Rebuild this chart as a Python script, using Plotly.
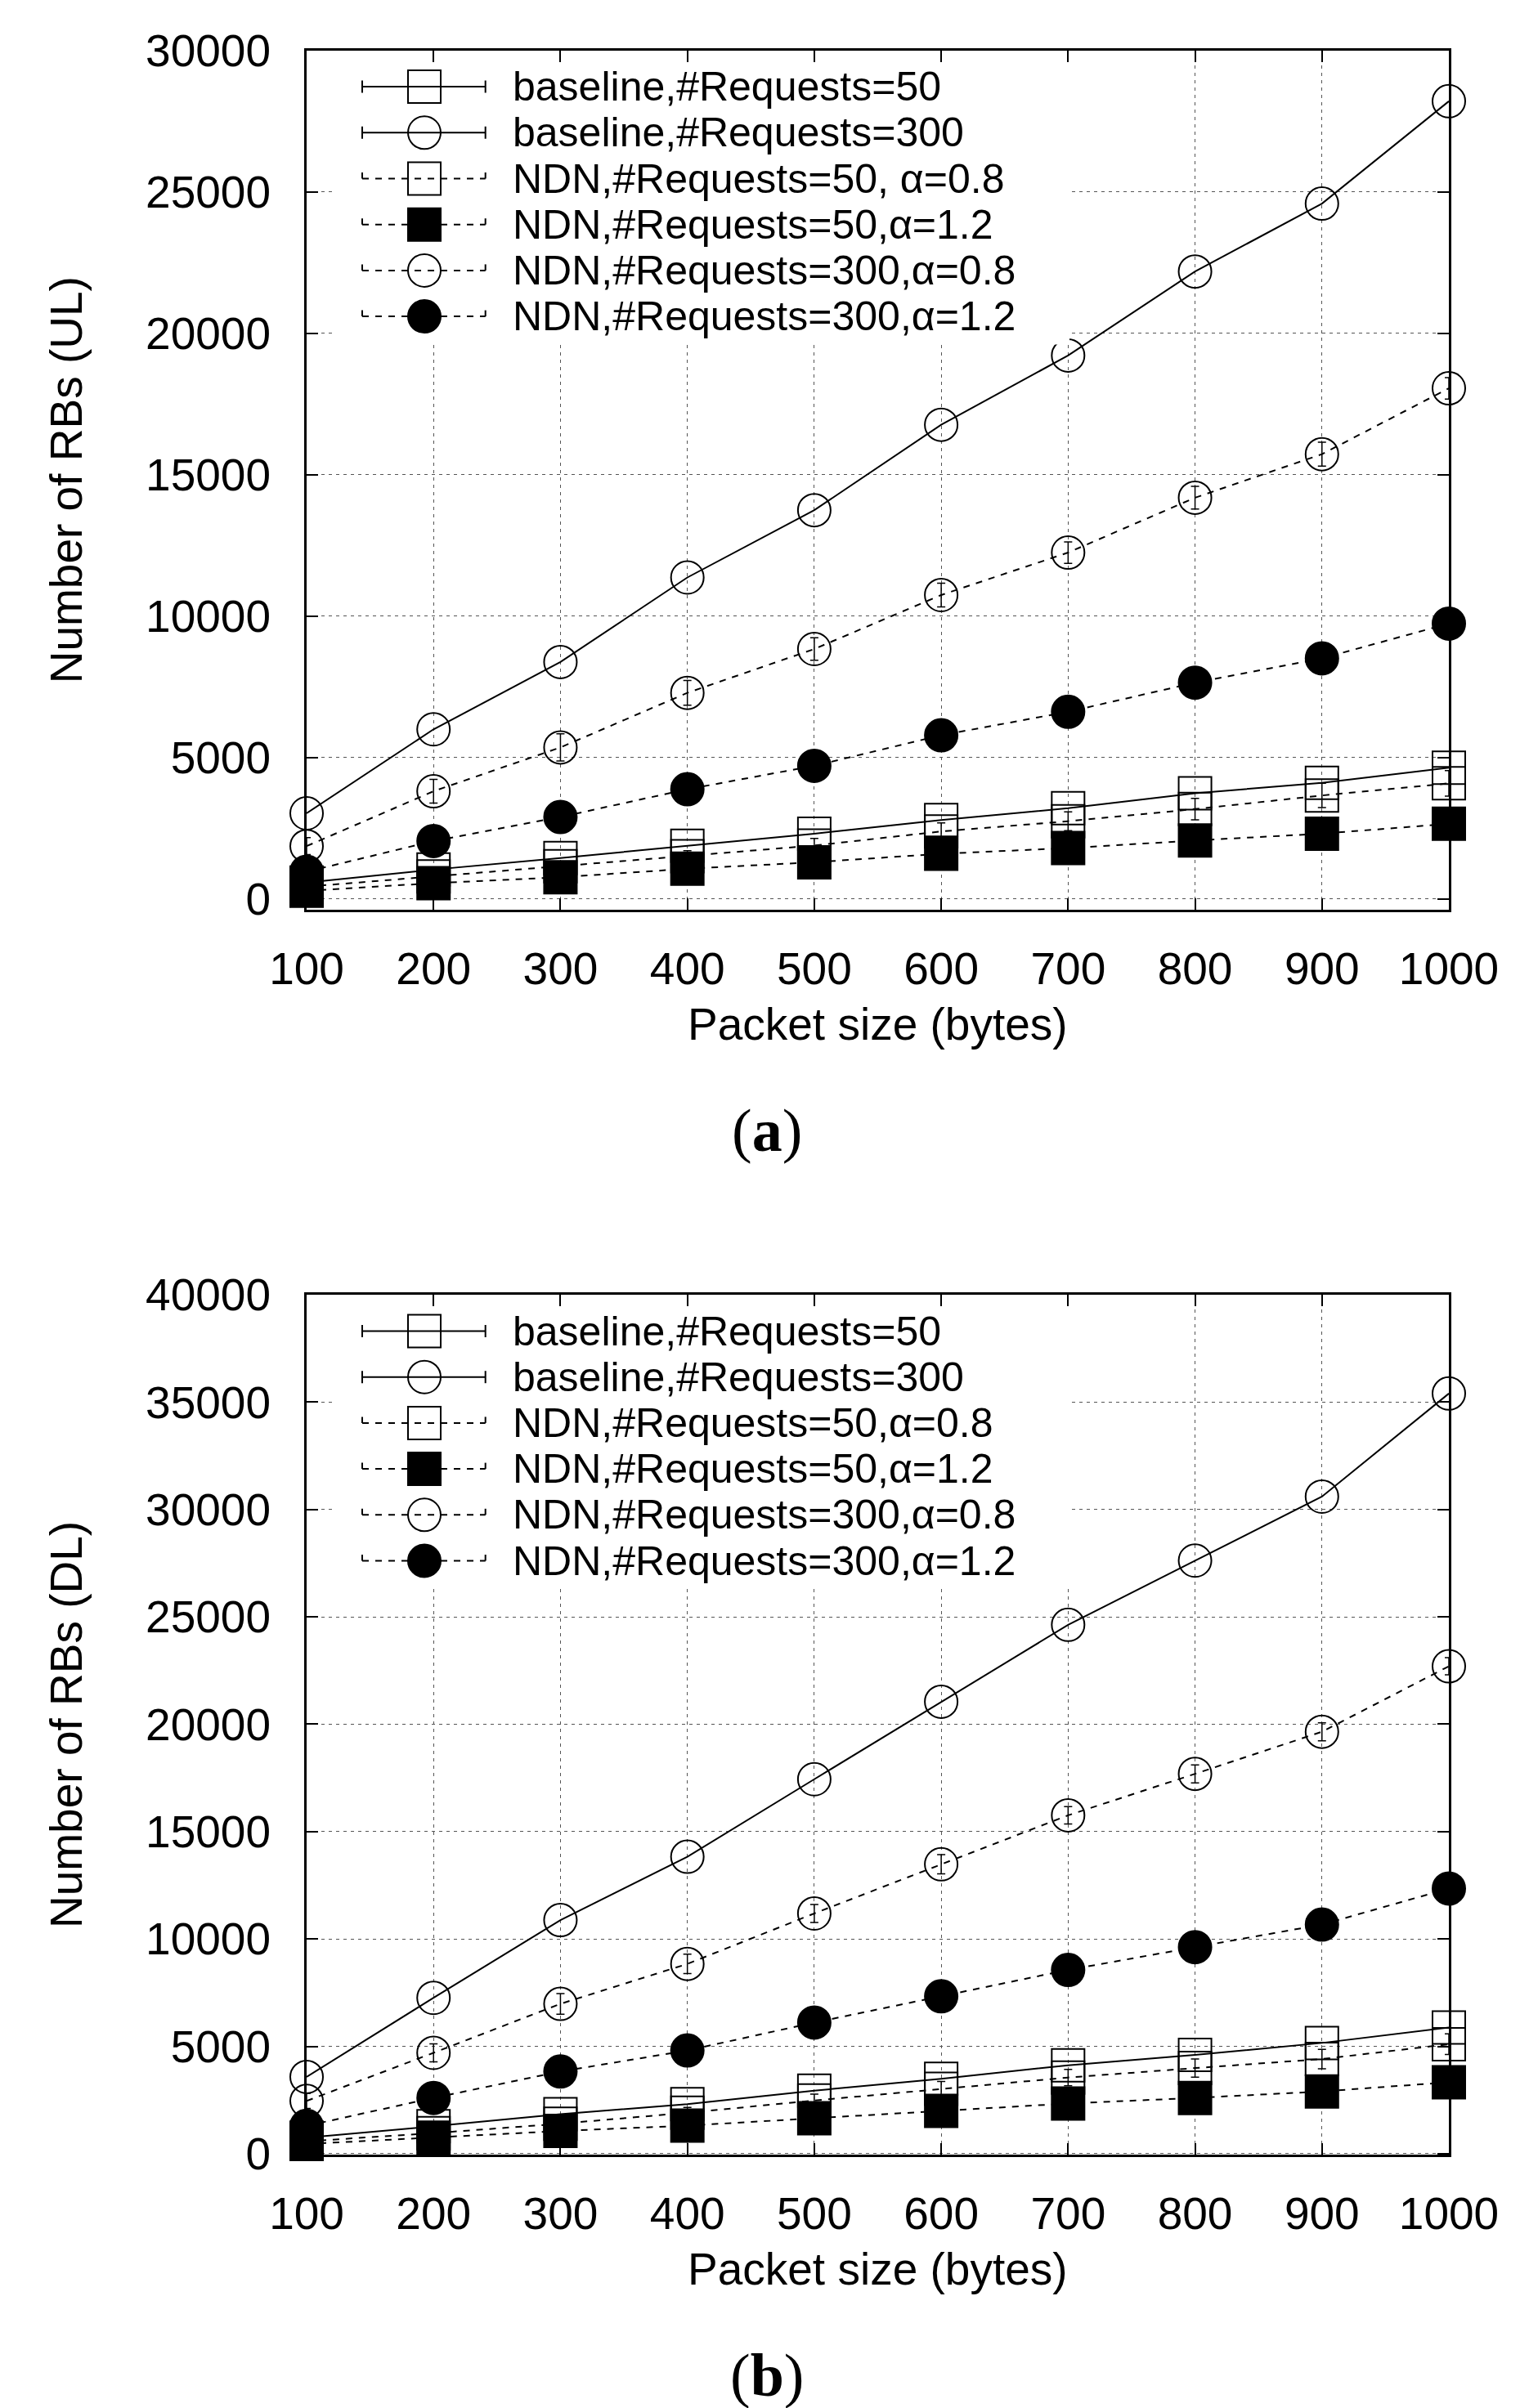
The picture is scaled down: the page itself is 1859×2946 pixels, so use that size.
"""Number of RBs (UL / DL) versus packet size, baseline vs NDN."""

import plotly.graph_objects as go

PACKET_SIZES = [100, 200, 300, 400, 500, 600, 700, 800, 900, 1000]

# panel (a): uplink
UL_BASELINE_50 = [570, 1030, 1440, 1870, 2300, 2780, 3200, 3730, 4100, 4630]
UL_BASELINE_300 = [3020, 5990, 8370, 11360, 13740, 16760, 19210, 22180, 24580, 28200]
UL_NDN_50_A08 = [425, 790, 1150, 1500, 1880, 2380, 2740, 3170, 3650, 4080]
UL_NDN_50_A12 = [280, 550, 760, 1060, 1290, 1590, 1790, 2060, 2300, 2650]
UL_NDN_300_A08 = [1860, 3800, 5350, 7280, 8830, 10740, 12240, 14180, 15720, 18050]
UL_NDN_300_A12 = [955, 2040, 2890, 3870, 4700, 5780, 6610, 7640, 8500, 9730]

# panel (b): downlink
DL_BASELINE_50 = [750, 1280, 1840, 2310, 2940, 3490, 4120, 4600, 5160, 5880]
DL_BASELINE_300 = [3580, 7260, 10880, 13830, 17440, 21050, 24630, 27620, 30600, 35400]
DL_NDN_50_A08 = [580, 960, 1400, 1910, 2480, 3020, 3550, 3990, 4410, 5100]
DL_NDN_50_A12 = [455, 750, 1060, 1310, 1650, 2000, 2340, 2600, 2900, 3330]
DL_NDN_300_A08 = [2460, 4700, 6980, 8840, 11190, 13480, 15760, 17690, 19650, 22700]
DL_NDN_300_A12 = [1300, 2600, 3830, 4810, 6110, 7330, 8560, 9620, 10670, 12350]

# small error bars, visible inside the open NDN markers
UL_NDN_50_A08_ERR = [100, 150, 150, 200, 250, 300, 330, 380, 430, 450]
UL_NDN_300_A08_ERR = [300, 420, 480, 440, 400, 420, 380, 400, 420, 380]
DL_NDN_50_A08_ERR = [100, 150, 200, 250, 300, 350, 380, 420, 450, 480]
DL_NDN_300_A08_ERR = [350, 420, 480, 450, 420, 450, 400, 420, 420, 400]

UL_LABELS = [
    "baseline,#Requests=50",
    "baseline,#Requests=300",
    "NDN,#Requests=50, α=0.8",
    "NDN,#Requests=50,α=1.2",
    "NDN,#Requests=300,α=0.8",
    "NDN,#Requests=300,α=1.2",
]
DL_LABELS = [
    "baseline,#Requests=50",
    "baseline,#Requests=300",
    "NDN,#Requests=50,α=0.8",
    "NDN,#Requests=50,α=1.2",
    "NDN,#Requests=300,α=0.8",
    "NDN,#Requests=300,α=1.2",
]

W, H = 1859, 2946
BOX_L, BOX_R = 367, 1764
A_TOP, A_BOT = 53.6, 1105
B_TOP, B_BOT = 1576, 2628
BOX_W = BOX_R - BOX_L

FONT = "Liberation Sans, Arial, sans-serif"
FS = 55
KEY_FS = 50
DASH = "8px,8px"

# (dash, symbol) for each of the six series, in drawing order
STYLES = [
    ("solid", "square-open"),
    ("solid", "circle-open"),
    (DASH, "square-open"),
    (DASH, "square"),
    (DASH, "circle-open"),
    (DASH, "circle"),
]

fig = go.Figure()


def add_panel(series, errors, xa, ya):
    for values, err, (dash, symbol) in zip(series, errors, STYLES):
        error_y = None
        if err is not None:
            error_y = {"type": "data", "array": err, "color": "black",
                       "thickness": 1.5, "width": 5}
        fig.add_trace(
            go.Scatter(
                x=PACKET_SIZES,
                y=values,
                mode="lines+markers",
                line={"color": "black", "width": 2, "dash": dash},
                marker={
                    "symbol": symbol,
                    "size": 40,
                    "color": "black",
                    "line": {"color": "black", "width": 2},
                },
                error_y=error_y,
                cliponaxis=False,
                showlegend=False,
                xaxis=xa,
                yaxis=ya,
            )
        )


def add_key(labels, xa, ya):
    # gnuplot style opaque key, laid out in pixel units of the plot box
    fig.add_trace(
        go.Scatter(
            x=[35, 933, 933, 35, 35],
            y=[16, 16, 360, 360, 16],
            mode="lines",
            fill="toself",
            fillcolor="white",
            line={"width": 0, "color": "white"},
            showlegend=False,
            hoverinfo="skip",
            xaxis=xa,
            yaxis=ya,
        )
    )
    for i, (label, (dash, symbol)) in enumerate(zip(labels, STYLES)):
        row = 44.5 + 56.2 * i
        fig.add_trace(
            go.Scatter(
                x=[68, 218.7],
                y=[row, row],
                mode="lines",
                line={"color": "black", "width": 2, "dash": dash},
                showlegend=False,
                hoverinfo="skip",
                xaxis=xa,
                yaxis=ya,
            )
        )
        lo = row + 7.5 if dash == "solid" else row
        fig.add_trace(
            go.Scatter(
                x=[68, 68, None, 218.7, 218.7],
                y=[row - 7.5, lo, None, row - 7.5, lo],
                mode="lines",
                line={"color": "black", "width": 2},
                showlegend=False,
                hoverinfo="skip",
                xaxis=xa,
                yaxis=ya,
            )
        )
        fig.add_trace(
            go.Scatter(
                x=[144],
                y=[row],
                mode="markers",
                marker={
                    "symbol": symbol,
                    "size": 40,
                    "color": "black",
                    "line": {"color": "black", "width": 2},
                },
                showlegend=False,
                hoverinfo="skip",
                xaxis=xa,
                yaxis=ya,
            )
        )
        fig.add_annotation(
            x=250,
            y=row,
            xref=xa,
            yref=ya,
            text=label,
            showarrow=False,
            xanchor="left",
            yanchor="middle",
            font={"family": FONT, "size": KEY_FS, "color": "black"},
        )


add_panel(
    [UL_BASELINE_50, UL_BASELINE_300, UL_NDN_50_A08, UL_NDN_50_A12, UL_NDN_300_A08, UL_NDN_300_A12],
    [None, None, UL_NDN_50_A08_ERR, None, UL_NDN_300_A08_ERR, None],
    "x",
    "y",
)
add_panel(
    [DL_BASELINE_50, DL_BASELINE_300, DL_NDN_50_A08, DL_NDN_50_A12, DL_NDN_300_A08, DL_NDN_300_A12],
    [None, None, DL_NDN_50_A08_ERR, None, DL_NDN_300_A08_ERR, None],
    "x2",
    "y2",
)
add_key(UL_LABELS, "x3", "y3")
add_key(DL_LABELS, "x4", "y4")

x_dom = [BOX_L / W, BOX_R / W]
a_dom = [1 - A_BOT / H, 1 - A_TOP / H]
b_dom = [1 - B_BOT / H, 1 - B_TOP / H]

tick_font = {"family": FONT, "size": FS, "color": "black"}
common = dict(
    showline=True,
    linewidth=3,
    linecolor="black",
    mirror="ticks",
    ticks="inside",
    ticklen=14,
    tickwidth=1.5,
    tickcolor="black",
    showgrid=True,
    gridcolor="#555555",
    gridwidth=1.2,
    griddash="4px,5px",
    zeroline=False,
    tickfont=tick_font,
    tickformat="d",
    automargin=False,
    fixedrange=True,
)
x_common = dict(common, range=[100, 1000], tickvals=PACKET_SIZES, ticklabelstandoff=22)
hidden = dict(visible=False, showgrid=False, zeroline=False, automargin=False, fixedrange=True)

fig.update_layout(
    width=W,
    height=H,
    margin={"l": 0, "r": 0, "t": 0, "b": 0, "autoexpand": False},
    paper_bgcolor="white",
    plot_bgcolor="white",
    showlegend=False,
    xaxis=dict(x_common, domain=x_dom, anchor="y"),
    yaxis=dict(common, domain=a_dom, anchor="x", range=[-390, 30000], dtick=5000, tick0=0,
               ticklabelstandoff=30),
    xaxis2=dict(x_common, domain=x_dom, anchor="y2"),
    yaxis2=dict(common, domain=b_dom, anchor="x2", range=[-40, 40000], dtick=5000, tick0=0,
                ticklabelstandoff=30),
    xaxis3=dict(hidden, overlaying="x", anchor="y3", range=[0, BOX_W]),
    yaxis3=dict(hidden, overlaying="y", anchor="x3", range=[A_BOT - A_TOP, 0]),
    xaxis4=dict(hidden, overlaying="x2", anchor="y4", range=[0, BOX_W]),
    yaxis4=dict(hidden, overlaying="y2", anchor="x4", range=[B_BOT - B_TOP, 0]),
)

title_font = {"family": FONT, "size": FS, "color": "black"}
for cap, top, bot, ylab in (("a", A_TOP, A_BOT, "Number of RBs (UL)"),
                             ("b", B_TOP, B_BOT, "Number of RBs (DL)")):
    fig.add_annotation(
        x=(BOX_L + BOX_R) / 2 / W, y=1 - (bot + 140) / H, xref="paper", yref="paper",
        text="Packet size (bytes)", showarrow=False, xanchor="center", yanchor="middle",
        font=title_font,
    )
    fig.add_annotation(
        x=73 / W, y=1 - (top + bot) / 2 / H, xref="paper", yref="paper",
        text=ylab, textangle=-90, showarrow=False, xanchor="center", yanchor="middle",
        font=title_font,
    )
    fig.add_annotation(
        x=0.5, y=1 - (bot + 270) / H, xref="paper", yref="paper",
        text=f"(<b>{cap}</b>)", showarrow=False, xanchor="center", yanchor="middle",
        font={"family": "Liberation Serif, Times New Roman, serif", "size": 74, "color": "black"},
    )

fig.write_html("out.html")
